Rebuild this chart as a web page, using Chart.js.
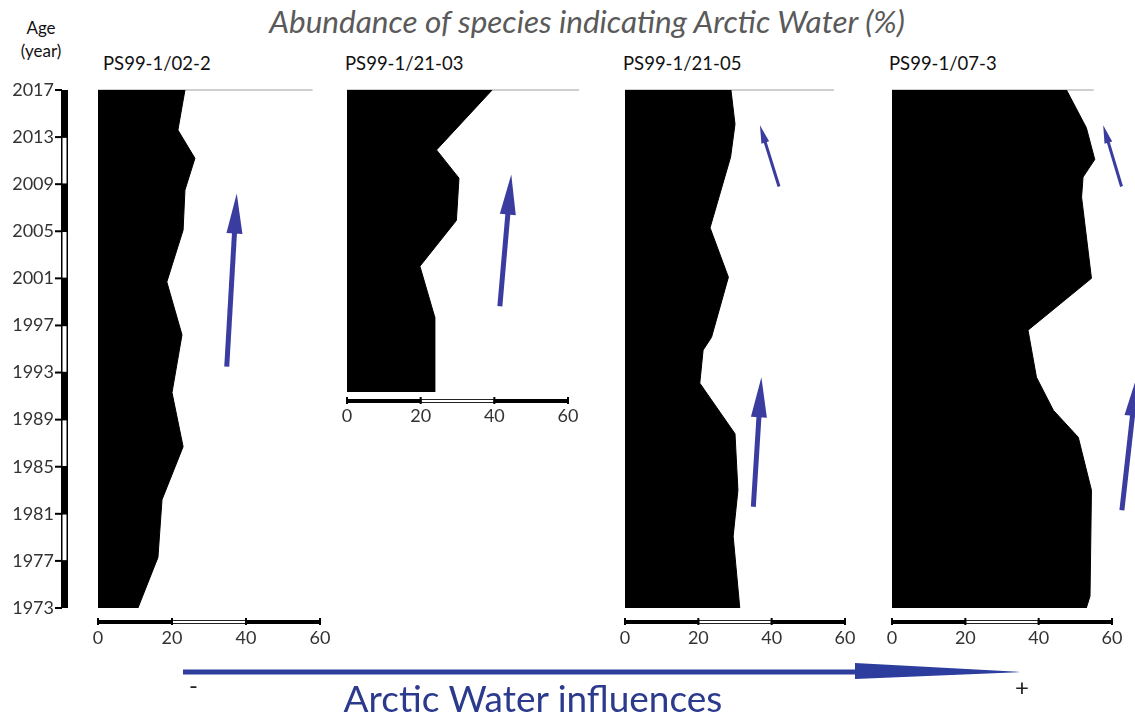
<!DOCTYPE html>
<html>
<head>
<meta charset="utf-8">
<title>Abundance of species indicating Arctic Water</title>
<script src="https://cdn.jsdelivr.net/npm/chart.js@4.4.1/dist/chart.umd.min.js"></script>
<style>
  body { margin: 0; background: #fff; font-family: Lato, sans-serif; }
  #wrap { position: relative; width: 1135px; height: 717px; overflow: hidden; background: #fff; }
  canvas { position: absolute; }
  .txt { position: absolute; white-space: nowrap; line-height: 1; }
  #title { left: 587px; top: 6px; transform: translateX(-50%); font-size: 31.5px; font-style: italic; color: #5a5a5a; }
  .age { left: 41px; transform: translateX(-50%); font-size: 17px; color: #111; }
  .ptitle { top: 54px; font-size: 18.5px; color: #111; }
  #influence { left: 533px; top: 679px; transform: translateX(-50%); font-size: 37px; color: #2b3a8c; }
  .sign { font-size: 24px; color: #222; }
</style>
</head>
<body>
<div id="wrap">
  <div class="txt" id="title">Abundance of species indicating Arctic Water (%)</div>
  <div class="txt age" style="top:19px">Age</div>
  <div class="txt age" style="top:42px">(year)</div>
  <div class="txt ptitle" style="left:103px">PS99-1/02-2</div>
  <div class="txt ptitle" style="left:345px">PS99-1/21-03</div>
  <div class="txt ptitle" style="left:623px">PS99-1/21-05</div>
  <div class="txt ptitle" style="left:889px">PS99-1/07-3</div>

  <canvas id="p1" width="340" height="578" style="left:0;top:70px"></canvas>
  <canvas id="p2" width="261" height="362" style="left:327px;top:70px"></canvas>
  <canvas id="p3" width="260" height="578" style="left:605px;top:70px"></canvas>
  <canvas id="p4" width="263" height="578" style="left:872px;top:70px"></canvas>

  <svg width="1135" height="717" style="position:absolute;left:0;top:0">
    <rect x="183" y="669.5" width="673" height="5" fill="#2c3d9e"/>
    <polygon points="855,663 1021,672 855,679" fill="#2c3d9e"/>
  </svg>
  <div class="txt sign" style="left:189px;top:673px">-</div>
  <div class="txt sign" style="left:1015px;top:675px">+</div>
  <div class="txt" id="influence">Arctic Water influences</div>
</div>

<script>
// age axis and abundance axis ticks
const ageTicks = [1973, 1977, 1981, 1985, 1989, 1993, 1997, 2001, 2005, 2009, 2013, 2017];
const xTicks = [0, 20, 40, 60];

// PS99-1/02-2
const p1Years  = [2017, 2013.6, 2011.2, 2008.5, 2005.1, 2000.7, 1996.2, 1991.3, 1986.7, 1982.2, 1977.3, 1973];
const p1Values = [23.5, 21.6, 26.2, 23.5, 23, 18.6, 22.7, 20, 23, 17.3, 16.2, 10.8];

// PS99-1/21-03 (shorter core)
const p2Years  = [2017, 2011.9, 2009.5, 2005.9, 2002, 1997.7, 1991.3];
const p2Values = [39.4, 24.3, 30.4, 29.7, 19.8, 23.8, 23.8];

// PS99-1/21-05
const p3Years  = [2017, 2014.1, 2011.3, 2005.3, 2001.1, 1996, 1994.9, 1992.1, 1987.8, 1983, 1979.1, 1973];
const p3Values = [28.9, 30, 28.8, 23.2, 28.2, 23.6, 21.3, 20.4, 30, 30.8, 29.5, 31.3];

// PS99-1/07-3
const p4Years  = [2017, 2013.8, 2011.1, 2009.6, 2007.9, 2001, 1996.6, 1992.6, 1989.8, 1987.5, 1983, 1974, 1973];
const p4Values = [47.6, 53, 55.3, 52.1, 51.7, 54.4, 37.1, 39.4, 44, 50.8, 54.4, 54, 53];

// trend arrows: [value tail, year tail, value tip, year tip, kind]
const p1Arrows = [[34.8, 1993.5, 37.5, 2008.2, 'big']];
const p2Arrows = [[41.5, 1998.6, 44.6, 2009.8, 'big']];
const p3Arrows = [[42, 2008.8, 36.8, 2014.0, 'small'], [35, 1981.6, 37.2, 1992.6, 'big']];
const p4Arrows = [[62.6, 2008.8, 57.6, 2014.0, 'small'], [62.7, 1981.3, 66.8, 1992.7, 'big']];

Chart.defaults.font.family = 'Lato, sans-serif';
Chart.defaults.color = '#333';

function drawArrow(ctx, xs, ys, a) {
  const x0 = xs.getPixelForValue(a[0]), y0 = ys.getPixelForValue(a[1]);
  const x1 = xs.getPixelForValue(a[2]), y1 = ys.getPixelForValue(a[3]);
  const [shaft, headLen, headW] = a[4] === 'small' ? [3, 18, 8] : [5, 40, 16];
  const ang = Math.atan2(y1 - y0, x1 - x0);
  const bx = x1 - headLen * Math.cos(ang), by = y1 - headLen * Math.sin(ang);
  const nx = -Math.sin(ang) * headW / 2, ny = Math.cos(ang) * headW / 2;
  ctx.strokeStyle = '#3b3c9f';
  ctx.fillStyle = '#3b3c9f';
  ctx.lineWidth = shaft;
  ctx.beginPath();
  ctx.moveTo(x0, y0);
  ctx.lineTo(bx + 2 * Math.cos(ang), by + 2 * Math.sin(ang));
  ctx.stroke();
  ctx.beginPath();
  ctx.moveTo(x1, y1);
  ctx.lineTo(bx + nx, by + ny);
  ctx.lineTo(bx - nx, by - ny);
  ctx.closePath();
  ctx.fill();
}

// grey line on top, scale bars, age bar and arrows
const decor = {
  id: 'decor',
  beforeDatasetsDraw(chart, args, opts) {
    const {ctx, scales: {x, y}} = chart;
    ctx.save();
    ctx.strokeStyle = '#cfcfcf';
    ctx.lineWidth = 2;
    ctx.beginPath();
    ctx.moveTo(x.getPixelForValue(0), y.top);
    ctx.lineTo(x.getPixelForValue(opts.topLine), y.top);
    ctx.stroke();
    ctx.restore();
  },
  afterDraw(chart, args, opts) {
    const {ctx, scales: {x, y}} = chart;
    ctx.save();
    const by = y.bottom + opts.barGap;
    for (let i = 0; i < xTicks.length - 1; i++) {
      const a = x.getPixelForValue(xTicks[i]), b = x.getPixelForValue(xTicks[i + 1]);
      if (i % 2 === 0) {
        ctx.fillStyle = '#000';
        ctx.fillRect(a, by, b - a, 4);
      } else {
        ctx.strokeStyle = '#222';
        ctx.lineWidth = 1;
        ctx.strokeRect(a + 0.5, by + 0.5, b - a - 1, 3);
      }
    }
    ctx.fillStyle = '#000';
    xTicks.forEach(v => {
      const px = x.getPixelForValue(v);
      ctx.fillRect(px - 1, by - 2, 2, 7);
    });

    if (opts.ageBar) {
      const bx = x.left - 37;
      for (let i = 0; i < ageTicks.length - 1; i++) {
        const top = y.getPixelForValue(ageTicks[ageTicks.length - 1 - i]);
        const bot = y.getPixelForValue(ageTicks[ageTicks.length - 2 - i]);
        if (i % 2 === 0) {
          ctx.fillStyle = '#000';
          ctx.fillRect(bx, top, 7, bot - top);
        } else {
          ctx.strokeStyle = '#000';
          ctx.lineWidth = 1.5;
          ctx.strokeRect(bx + 0.75, top, 5.5, bot - top);
        }
      }
      ctx.fillStyle = '#000';
      ageTicks.forEach(v => {
        const py = y.getPixelForValue(v);
        ctx.fillRect(bx - 6, py - 1, 7, 2);
      });
    }

    opts.arrows.forEach(a => drawArrow(ctx, x, y, a));
    ctx.restore();
  }
};

function makePanel(id, years, values, yMin, arrows, style) {
  const canvas = document.getElementById(id);
  const yScale = {
    type: 'linear',
    display: style.showAge,
    position: 'left',
    min: yMin,
    max: 2017,
    grid: { display: false, drawTicks: false },
    border: { display: false },
    ticks: { font: { size: 18 }, color: '#333', padding: 44, callback: v => String(v) },
    afterBuildTicks: s => { s.ticks = ageTicks.map(v => ({value: v})); }
  };
  if (style.showAge) {
    // fixed width for the age axis, no extra label padding above/below
    yScale.afterFit = s => { s.width = 98; s.paddingTop = 10; s.paddingBottom = 10; };
  }
  return new Chart(canvas, {
    type: 'line',
    data: {
      datasets: [{
        data: years.map((yr, i) => ({x: values[i], y: yr})),
        backgroundColor: '#000',
        borderColor: '#000',
        borderWidth: 1,
        pointRadius: 0,
        tension: 0,
        fill: 'origin'
      }]
    },
    options: {
      responsive: false,
      animation: false,
      indexAxis: 'y',
      layout: { padding: { left: style.padLeft, right: style.padRight, top: 20, bottom: 0 } },
      scales: {
        x: {
          type: 'linear',
          position: 'bottom',
          min: 0,
          max: 60,
          grid: { display: false, drawTicks: false },
          border: { display: false },
          ticks: { font: { size: 18 }, color: '#333', padding: style.tickPad, maxRotation: 0 },
          afterBuildTicks: s => { s.ticks = xTicks.map(v => ({value: v})); },
          afterFit: s => { s.height = 40; s.paddingLeft = 0; s.paddingRight = 0; }
        },
        y: yScale
      },
      plugins: {
        legend: { display: false },
        tooltip: { enabled: false },
        decor: { topLine: style.topLine, barGap: style.barGap, ageBar: style.showAge, arrows: arrows }
      }
    },
    plugins: [decor]
  });
}

makePanel('p1', p1Years, p1Values, 1973, p1Arrows,
  {padLeft: 0, padRight: 20, tickPad: 19, topLine: 58, barGap: 12, showAge: true});
makePanel('p2', p2Years, p2Values, 1991.3, p2Arrows,
  {padLeft: 20, padRight: 20, tickPad: 13, topLine: 63, barGap: 7, showAge: false});
makePanel('p3', p3Years, p3Values, 1973, p3Arrows,
  {padLeft: 20, padRight: 20, tickPad: 19, topLine: 57, barGap: 12, showAge: false});
makePanel('p4', p4Years, p4Values, 1973, p4Arrows,
  {padLeft: 20, padRight: 23, tickPad: 19, topLine: 55, barGap: 12, showAge: false});
</script>
</body>
</html>
